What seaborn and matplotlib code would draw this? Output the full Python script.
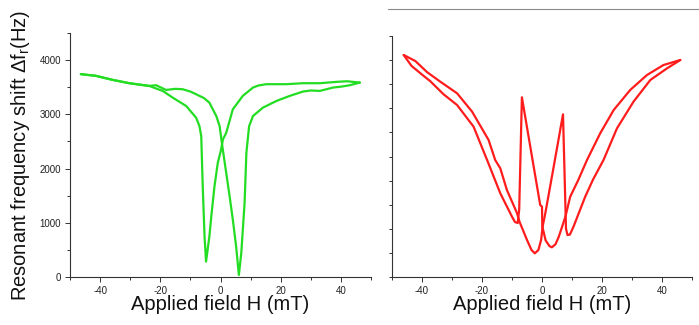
import matplotlib
matplotlib.use("Agg")
import matplotlib.pyplot as plt
from matplotlib.ticker import MultipleLocator, NullFormatter
from matplotlib.lines import Line2D
import pandas as pd
import seaborn as sns

# ---- magnetoelastic resonance shift vs applied field (green sample) ----
green_up_h = [-46.4, -41.4, -35.9, -30.3, -23.7, -21.4, -18.1, -15.0, -12.6, -10.0, -8.1,
              -5.5, -3.7, -1.4, -0.3, 0.6, 1.9, 3.0, 4.1, 5.2, 6.1, 6.9, 8.0, 8.6, 9.5,
              10.8, 14.1, 18.6, 23.0, 27.4, 30.0, 33.0, 37.4, 40.0, 43.0, 46.3]
green_up_df = [3741, 3710, 3636, 3574, 3524, 3537, 3450, 3470, 3463, 3420, 3370,
               3300, 3216, 2969, 2784, 2414, 1920, 1500, 1056, 560, 37, 438, 1364, 2290, 2780,
               2969, 3124, 3247, 3340, 3420, 3440, 3432, 3494, 3510, 3537, 3586]

green_down_h = [46.3, 42.0, 38.6, 33.0, 27.4, 21.9, 15.2, 12.5, 10.8, 7.4, 4.1, 1.9,
                0.8, 0.2, -0.9, -2.0, -3.0, -3.7, -4.8, -5.3, -5.9, -6.4, -7.0, -8.1,
                -11.4, -15.9, -19.2, -23.7, -30.3, -35.9, -41.4, -46.4]
green_down_df = [3586, 3610, 3599, 3574, 3574, 3556, 3556, 3530, 3494, 3340, 3093, 2660,
                 2537, 2352, 2105, 1672, 1150, 746, 284, 746, 1672, 2598, 2784, 2938,
                 3154, 3309, 3432, 3524, 3574, 3636, 3710, 3741]

# ---- red sample ----
red_up_h = [-46.1, -43.5, -40.0, -37.2, -32.8, -28.3, -22.8, -18.3, -13.9, -10.0, -9.0,
            -8.1, -7.6, -6.7, -3.9, -0.6, 0.0, 0.1, 1.2, 2.5, 3.3, 4.5, 5.6, 7.8, 9.4,
            12.0, 15.0, 19.4, 23.9, 29.4, 35.0, 40.5, 46.1]
red_up_df = [4606, 4380, 4200, 4060, 3790, 3568, 3118, 2427, 1736, 1251, 1140,
             1120, 1400, 3728, 2703, 1494, 1459, 1050, 760, 640, 616, 680, 836, 1251, 1666,
             2000, 2427, 2981, 3465, 3880, 4191, 4398, 4502]

red_down_h = [46.1, 41.7, 36.1, 30.5, 25.0, 20.5, 17.0, 14.4, 10.5, 9.3, 8.5, 8.0,
              7.0, 3.9, 1.1, 0.2, -0.3, -1.2, -2.4, -3.5, -5.0, -7.5, -8.3, -11.7, -13.9,
              -15.6, -17.8, -23.3, -28.3, -33.9, -38.3, -42.2, -46.1]
red_down_df = [4502, 4330, 4087, 3637, 3085, 2427, 2020, 1666, 1044, 880, 871, 1000,
               3375, 2289, 1321, 1044, 768, 560, 491, 560, 768, 1147, 1321, 1805, 2255,
               2427, 2842, 3430, 3811, 4052, 4250, 4480, 4606]

field_ticks = [-40, -20, 0, 20, 40]
shift_ticks = [0, 1000, 2000, 3000, 4000]

GREEN = "#22dd22"
RED = "#ff1c1c"
AXC = "#333333"

sns.set_theme(style="ticks")
plt.rcParams["font.family"] = ["Liberation Sans", "DejaVu Sans"]
plt.rcParams["mathtext.fontset"] = "custom"
plt.rcParams["mathtext.rm"] = "Liberation Sans"
plt.rcParams["mathtext.it"] = "Liberation Sans"

W, H = 699, 325
fig = plt.figure(figsize=(W / 100, H / 100), dpi=100)
fig.patch.set_facecolor("white")

ax1 = fig.add_axes([70 / W, 48 / H, 301 / W, 244 / H])
ax2 = fig.add_axes([392 / W, 48 / H, 300 / W, 241 / H])


def branch(h, df):
    return pd.DataFrame({"H": h, "df": df})


for h, df in [(green_up_h, green_up_df), (green_down_h, green_down_df)]:
    sns.lineplot(data=branch(h, df), x="H", y="df", sort=False, estimator=None,
                 color=GREEN, lw=1.6, ax=ax1)
for h, df in [(red_up_h, red_up_df), (red_down_h, red_down_df)]:
    sns.lineplot(data=branch(h, df), x="H", y="df", sort=False, estimator=None,
                 color=RED, lw=1.6, ax=ax2)

for ax, top in [(ax1, 4500), (ax2, 5000)]:
    ax.set_xlim(-50, 50)
    ax.set_ylim(0, top)
    ax.set_facecolor("white")
    for s in ["top", "right"]:
        ax.spines[s].set_visible(False)
    for s in ["left", "bottom"]:
        ax.spines[s].set_color(AXC)
        ax.spines[s].set_linewidth(0.8)
    ax.set_xticks(field_ticks)
    ax.set_xticklabels([str(t) for t in field_ticks])
    ax.xaxis.set_minor_locator(MultipleLocator(10))
    ax.tick_params(which="major", direction="out", length=3.5, width=0.7, color=AXC,
                   labelsize=7, labelcolor="#222222", pad=3)
    ax.tick_params(which="minor", direction="out", length=2, width=0.7, color=AXC)
    ax.set_xlabel("Applied field H (mT)", fontsize=14.5, color="#111111")
    ax.xaxis.set_label_coords(0.5, -0.075)

ax1.set_yticks(shift_ticks)
ax1.set_yticklabels([str(t) for t in shift_ticks])
ax1.yaxis.set_minor_locator(MultipleLocator(500))
ax1.set_ylabel(r"Resonant frequency shift $\Delta$f$_\mathregular{r}$(Hz)",
               fontsize=14.5, color="#111111")
ax1.yaxis.set_label_coords(-0.125, 0.5)

ax2.yaxis.set_major_locator(MultipleLocator(500))
ax2.yaxis.set_major_formatter(NullFormatter())
ax2.tick_params(axis="y", which="major", length=2.5)
ax2.set_ylabel("")

fig.add_artist(Line2D([388 / W, 1.0], [1 - 9.3 / H] * 2, color="#8a8a8a", lw=0.8))

fig.savefig("out.png", dpi=100, facecolor="white")
